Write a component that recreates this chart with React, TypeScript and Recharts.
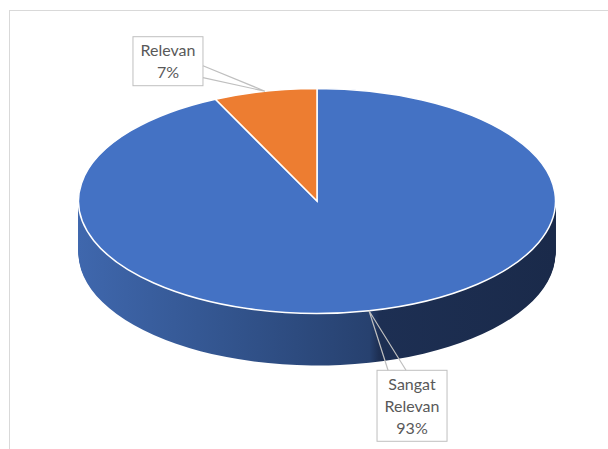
import React from 'react';
import { PieChart, Pie, Cell } from 'recharts';

// ---- data ----
const categories: string[] = ['Sangat Relevan', 'Relevan'];
const values: number[] = [93, 7];
const labelWords: string[][] = [['Sangat', 'Relevan'], ['Relevan']];
const colors: string[] = ['#4472C4', '#ED7D31'];

const data = categories.map((name, i) => ({ name, value: values[i] }));

// ---- layout ----
const W = 608;
const H = 449;
const CX = 317;
const CY = 201;
const RX = 238.5;
const RY = 112.5;
const DEPTH = 52;
const S = RY / RX;
const sideSteps: number[] = Array.from({ length: DEPTH }, (_, i) => DEPTH - i);
const calloutOffsets = [
  { dx: 43, dy: 95 },
  { dx: -97, dy: -30 },
];
const BOX_W = 70;
const LINE_H = 22;
const TEXT_COLOR = '#595959';
const BOX_STROKE = '#bfbfbf';

const clamp = (v: number, a: number, b: number) => Math.max(a, Math.min(b, v));

const renderLabel = (props: any) => {
  const { cx, cy, midAngle, outerRadius, percent, index } = props;
  const rad = Math.PI / 180;
  const ax = cx + outerRadius * Math.cos(-midAngle * rad);
  const ay = cy + outerRadius * S * Math.sin(-midAngle * rad);
  const lines = [...labelWords[index], `${Math.round(percent * 100)}%`];
  const h = lines.length * LINE_H + 5;
  const w = BOX_W;
  const off = calloutOffsets[index];
  const bcx = ax + off.dx;
  const bcy = ay + off.dy;
  const x = bcx - w / 2;
  const y = bcy - h / 2;
  const nx = (ax - bcx) / (w / 2);
  const ny = (ay - bcy) / (h / 2);
  let d = '';
  if (Math.abs(nx) >= Math.abs(ny)) {
    const half = 6;
    const bc = clamp(ay, y + 14, y + h - 14);
    if (nx > 0) {
      d = `M${x + w},${bc - half} L${ax},${ay} L${x + w},${bc + half}`;
    } else {
      d = `M${x},${bc - half} L${ax},${ay} L${x},${bc + half}`;
    }
  } else {
    const half = 9;
    const bc = clamp(ax, x + 20, x + w - 20);
    if (ny < 0) {
      d = `M${bc - half},${y} L${ax},${ay} L${bc + half},${y}`;
    } else {
      d = `M${bc - half},${y + h} L${ax},${ay} L${bc + half},${y + h}`;
    }
  }
  return (
    <g key={`lbl-${index}`}>
      <rect x={x} y={y} width={w} height={h} fill="#ffffff" stroke={BOX_STROKE} strokeWidth={1} />
      <path d={d} fill="none" stroke={BOX_STROKE} strokeWidth={1.2} />
      {lines.map((t, i) => (
        <text
          key={i}
          x={bcx}
          y={y + 19.5 + i * LINE_H}
          textAnchor="middle"
          fill={TEXT_COLOR}
          fontSize={16}
          fontFamily="Lato, 'Open Sans', sans-serif"
        >
          {t}
        </text>
      ))}
    </g>
  );
};

export default function App() {
  return (
    <div style={{ position: 'relative', width: W, height: H, overflow: 'hidden', background: '#fff' }}>
      <style>{`
        body { margin: 0; }
        g.recharts-pie.pie-flat { transform: scale(1, ${S}); transform-origin: 0 0; }
        .pie-flat path { vector-effect: non-scaling-stroke; }
      `}</style>
      <div
        style={{
          position: 'absolute',
          left: 9,
          top: 10,
          width: 800,
          height: 800,
          border: '1px solid #d9d9d9',
          boxSizing: 'border-box',
        }}
      />
      <div style={{ position: 'absolute', left: 0, top: 0 }}>
        <PieChart width={W} height={H} margin={{ top: 0, right: 0, bottom: 0, left: 0 }}>
          <defs>
            <linearGradient id="sideGrad" gradientUnits="userSpaceOnUse" x1={CX - RX} y1={0} x2={CX + RX} y2={0}>
              <stop offset="0%" stopColor="#3f67ad" />
              <stop offset="30%" stopColor="#33558f" />
              <stop offset="61%" stopColor="#27416f" />
              <stop offset="63%" stopColor="#1d2f53" />
              <stop offset="100%" stopColor="#1a2a4a" />
            </linearGradient>
          </defs>
          {sideSteps.map((k) => (
            <Pie
              key={`side-${k}`}
              className="pie-flat"
              data={data}
              dataKey="value"
              nameKey="name"
              cx={CX}
              cy={(CY + k) / S}
              outerRadius={RX}
              startAngle={90}
              endAngle={-270}
              stroke="none"
              fill="url(#sideGrad)"
              isAnimationActive={false}
              legendType="none"
            >
              {data.map((_, i) => (
                <Cell key={i} fill="url(#sideGrad)" stroke="none" />
              ))}
            </Pie>
          ))}
          <Pie
            className="pie-flat"
            data={data}
            dataKey="value"
            nameKey="name"
            cx={CX}
            cy={CY / S}
            outerRadius={RX}
            startAngle={90}
            endAngle={-270}
            stroke="#ffffff"
            strokeWidth={1.5}
            isAnimationActive={false}
          >
            {data.map((_, i) => (
              <Cell key={i} fill={colors[i]} stroke="#ffffff" strokeWidth={1.5} />
            ))}
          </Pie>
          <Pie
            data={data}
            dataKey="value"
            nameKey="name"
            cx={CX}
            cy={CY}
            outerRadius={RX}
            startAngle={90}
            endAngle={-270}
            fill="none"
            stroke="none"
            label={renderLabel}
            labelLine={false}
            isAnimationActive={false}
          >
            {data.map((_, i) => (
              <Cell key={i} fill="none" stroke="none" />
            ))}
          </Pie>
        </PieChart>
      </div>
    </div>
  );
}
